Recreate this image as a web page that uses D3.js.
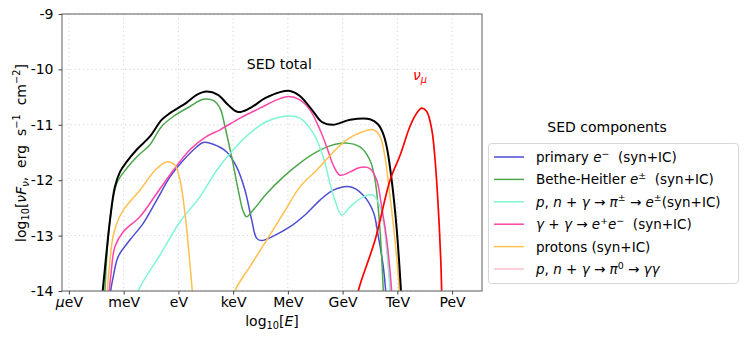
<!DOCTYPE html>
<html>
<head>
<meta charset="utf-8">
<script src="https://cdn.jsdelivr.net/npm/d3@7"></script>
<style>
	body { margin: 0; background: white; }
	text { font-family: "DejaVu Sans", sans-serif; }
</style>
</head>
<body>
<div id="chart"></div>
<script>
// log10(E/eV) tick positions and labels
var xTicks = [-6, -3, 0, 3, 6, 9, 12, 15];
var xTickLabels = ["μeV", "meV", "eV", "keV", "MeV", "GeV", "TeV", "PeV"];
var yTicks = [-14, -13, -12, -11, -10, -9];

// each series: [log10 E (eV), log10 nuFnu]
var totalSED = [[-4.25,-14.3],[-4.15,-14],[-3.75,-12.72],[-3.48,-12.12],[-3.2,-11.85],[-2.84,-11.67],[-2.29,-11.45],[-1.56,-11.21],[-0.92,-10.91],[-0.46,-10.79],[0.45,-10.6],[1.0,-10.46],[1.55,-10.4],[2.17,-10.46],[2.72,-10.64],[3.27,-10.77],[3.92,-10.7],[4.75,-10.52],[5.57,-10.41],[6.12,-10.39],[6.66,-10.48],[7.32,-10.73],[7.87,-10.95],[8.47,-11.0],[9.41,-10.91],[10.5,-10.9],[10.94,-10.99],[11.21,-11.15],[11.42,-11.4],[11.69,-12.0],[11.97,-12.9],[12.2,-14],[12.25,-14.3]];
var primaryE = [[-3.76,-14.3],[-3.71,-14],[-3.57,-13.74],[-3.3,-13.38],[-2.66,-13.08],[-1.93,-12.78],[-1.19,-12.36],[-0.46,-11.94],[0.27,-11.64],[1.0,-11.4],[1.36,-11.32],[1.91,-11.35],[2.65,-11.49],[3.19,-11.76],[3.65,-12.18],[4.02,-12.72],[4.29,-13.05],[4.56,-13.09],[5.2,-13.01],[6.12,-12.84],[7.03,-12.6],[7.76,-12.36],[8.49,-12.18],[9.41,-12.12],[10.13,-12.27],[10.68,-12.57],[10.96,-13.02],[11.23,-13.56],[11.36,-14],[11.4,-14.3]];
var betheHeitler = [[-4.08,-14.3],[-4.03,-14],[-3.81,-12.9],[-3.38,-12.06],[-2.84,-11.79],[-2.22,-11.56],[-1.56,-11.36],[-0.92,-11.03],[-0.28,-10.85],[0.63,-10.67],[1.36,-10.54],[1.91,-10.56],[2.28,-10.7],[2.55,-11.03],[2.92,-11.58],[3.28,-12.18],[3.56,-12.57],[3.74,-12.66],[4.1,-12.54],[4.84,-12.24],[5.75,-11.94],[6.66,-11.69],[7.58,-11.49],[8.31,-11.38],[9.13,-11.33],[9.95,-11.4],[10.5,-11.64],[10.78,-12.0],[11.05,-12.9],[11.23,-14],[11.26,-14.3]];
var pionCharged = [[-2.4,-14.35],[-2.2,-14],[-1.01,-13.35],[0.09,-12.75],[1.18,-12.3],[2.1,-11.82],[3.01,-11.45],[3.92,-11.15],[4.84,-10.94],[6.02,-10.84],[6.66,-10.88],[7.39,-11.15],[7.94,-11.58],[8.31,-12.06],[8.58,-12.36],[8.95,-12.63],[9.41,-12.48],[10.13,-12.3],[10.68,-12.27],[11.05,-12.48],[11.32,-12.9],[11.6,-14],[11.64,-14.3]];
var gammaGamma = [[-3.84,-14.3],[-3.79,-14],[-3.7,-13.71],[-3.48,-13.2],[-3.02,-12.93],[-2.11,-12.66],[-1.19,-12.24],[-0.28,-11.82],[0.63,-11.45],[1.55,-11.21],[2.28,-11.09],[3.38,-10.88],[4.47,-10.7],[5.39,-10.55],[6.02,-10.49],[6.66,-10.55],[7.21,-10.73],[7.76,-11.09],[8.13,-11.4],[8.49,-11.73],[8.86,-11.91],[9.41,-11.85],[9.95,-11.77],[10.5,-11.79],[10.87,-12.0],[11.14,-12.48],[11.42,-13.08],[11.69,-14],[11.73,-14.3]];
var protons = [[-3.95,-14.3],[-3.9,-14],[-3.75,-13.44],[-3.59,-13.03],[-3.38,-12.78],[-3.02,-12.54],[-2.11,-12.18],[-1.19,-11.79],[-0.64,-11.67],[-0.19,-11.73],[0.09,-12.0],[0.36,-12.6],[0.63,-13.5],[0.76,-14],[0.85,-14.4],[2.9,-14.4],[3.1,-14],[3.92,-13.56],[4.84,-13.08],[5.75,-12.6],[6.66,-12.12],[7.58,-11.82],[8.49,-11.49],[9.22,-11.27],[10.13,-11.12],[10.68,-11.09],[11.05,-11.21],[11.32,-11.58],[11.6,-12.3],[11.87,-13.08],[12.11,-14],[12.15,-14.3]];
var pionNeutral = [[10.78,-12.84],[11.0,-12.74],[11.23,-12.73],[11.32,-12.94],[11.48,-13.49],[11.63,-14],[11.66,-14.3]];
var numu = [[9.8,-14.2],[9.86,-14],[10.78,-13.08],[11.6,-12.0],[12.15,-11.55],[12.69,-11.03],[13.06,-10.79],[13.34,-10.7],[13.61,-10.76],[13.89,-11.09],[14.07,-11.64],[14.25,-12.54],[14.38,-13.44],[14.43,-14],[14.45,-14.3]];

var W = 747, H = 343;
var plot = { left: 62, right: 482, top: 14, bottom: 291 };

var svg = d3.select("#chart").append("svg")
	.attr("width", W)
	.attr("height", H);

var x = d3.scaleLinear().domain([-6.38, 16.64]).range([plot.left, plot.right]);
var y = d3.scaleLinear().domain([-14, -9]).range([plot.bottom, plot.top]);

// text with italic / super / subscript pieces
function richText(sel, parts, fs) {
	var shift = 0;
	parts.forEach(function (p) {
		var ts = sel.append("tspan").text(p.t);
		var target = p.sup ? -0.4 * fs : p.sub ? 0.22 * fs : 0;
		if (target != shift) ts.attr("dy", target - shift);
		shift = target;
		if (p.it) ts.style("font-style", "italic");
		if (p.sup || p.sub) ts.style("font-size", fs * 0.7 + "px");
	});
	sel.style("white-space", "pre");
	return sel;
}

svg.append("defs").append("clipPath").attr("id", "clip")
	.append("rect")
	.attr("x", plot.left).attr("y", plot.top)
	.attr("width", plot.right - plot.left)
	.attr("height", plot.bottom - plot.top);

// grid
var grid = svg.append("g");
grid.selectAll(".gx").data(xTicks).join("line")
	.attr("x1", d => x(d)).attr("x2", d => x(d))
	.attr("y1", plot.top).attr("y2", plot.bottom)
	.attr("stroke", "#cfcfcf").attr("stroke-width", 0.9)
	.attr("stroke-dasharray", "1.2,3");
grid.selectAll(".gy").data(yTicks).join("line")
	.attr("x1", plot.left).attr("x2", plot.right)
	.attr("y1", d => y(d)).attr("y2", d => y(d))
	.attr("stroke", "#cfcfcf").attr("stroke-width", 0.9)
	.attr("stroke-dasharray", "1.2,3");

// curves
var line = d3.line()
	.x(d => x(d[0]))
	.y(d => y(d[1]))
	.curve(d3.curveCatmullRom.alpha(0.5));

var series = [
	{ data: pionNeutral, color: "#ffc0cb", w: 1.5 },
	{ data: primaryE, color: "#4d4dd2", w: 1.5 },
	{ data: betheHeitler, color: "#4ca64c", w: 1.5 },
	{ data: pionCharged, color: "#7ff5d6", w: 1.5 },
	{ data: gammaGamma, color: "#ff44a8", w: 1.5 },
	{ data: protons, color: "#ffbf4d", w: 1.5 },
	{ data: totalSED, color: "black", w: 2 },
	{ data: numu, color: "red", w: 1.7 }
];

svg.append("g").attr("clip-path", "url(#clip)")
	.selectAll("path").data(series).join("path")
	.attr("d", d => line(d.data))
	.attr("fill", "none")
	.attr("stroke", d => d.color)
	.attr("stroke-width", d => d.w)
	.attr("stroke-linejoin", "round");

// spines
svg.append("rect")
	.attr("x", plot.left).attr("y", plot.top)
	.attr("width", plot.right - plot.left)
	.attr("height", plot.bottom - plot.top)
	.attr("fill", "none").attr("stroke", "#777").attr("stroke-width", 1.2);

// axes
var xAxis = svg.append("g")
	.attr("transform", "translate(0," + plot.bottom + ")")
	.call(d3.axisBottom(x).tickValues(xTicks)
		.tickFormat((d, i) => xTickLabels[i]).tickSize(3.5).tickPadding(2.5));
var yAxis = svg.append("g")
	.attr("transform", "translate(" + plot.left + ",0)")
	.call(d3.axisLeft(y).tickValues(yTicks)
		.tickFormat(d => d).tickSize(3.5).tickPadding(5));

svg.selectAll(".domain").remove();
svg.selectAll(".tick line").attr("stroke", "#444");
svg.selectAll(".tick text")
	.attr("fill", "black")
	.style("font-family", "DejaVu Sans")
	.style("font-size", "14px");
// mu in the first x label is math italic
xAxis.select(".tick text").text(null).call(richText, [{ t: "μ", it: true }, { t: "eV" }], 14);

// axis titles
richText(svg.append("text")
	.attr("x", (plot.left + plot.right) / 2 - 0)
	.attr("y", 326)
	.attr("text-anchor", "middle")
	.style("font-size", "14px"),
	[{ t: "log" }, { t: "10", sub: true }, { t: "[" }, { t: "E", it: true }, { t: "]" }], 14);

richText(svg.append("text")
	.attr("transform", "translate(26,153) rotate(-90)")
	.attr("text-anchor", "middle")
	.style("font-size", "14px"),
	[{ t: "log" }, { t: "10", sub: true }, { t: "[" }, { t: "νF", it: true }, { t: "ν", it: true, sub: true },
	 { t: ",  erg  s" }, { t: "−1", sup: true }, { t: "  cm" }, { t: "−2", sup: true }, { t: "]" }], 14);

// annotations
svg.append("text")
	.attr("x", x(3.75)).attr("y", y(-10.0))
	.style("font-size", "14px")
	.text("SED total");
richText(svg.append("text")
	.attr("x", x(12.86)).attr("y", y(-10.19))
	.attr("fill", "red")
	.style("font-size", "14px"),
	[{ t: "ν", it: true }, { t: "μ", it: true, sub: true }], 14);

// legend
var legendLabels = [
	[{ t: "primary " }, { t: "e", it: true }, { t: "−", sup: true }, { t: "  (syn+IC)" }],
	[{ t: "Bethe-Heitler " }, { t: "e", it: true }, { t: "±", sup: true }, { t: "  (syn+IC)" }],
	[{ t: "p", it: true }, { t: ", " }, { t: "n", it: true }, { t: " + " }, { t: "γ", it: true }, { t: " → " },
	 { t: "π", it: true }, { t: "±", sup: true }, { t: " → " }, { t: "e", it: true }, { t: "±", sup: true }, { t: "(syn+IC)" }],
	[{ t: "γ", it: true }, { t: " + " }, { t: "γ", it: true }, { t: " → " }, { t: "e", it: true }, { t: "+", sup: true },
	 { t: "e", it: true }, { t: "−", sup: true }, { t: "  (syn+IC)" }],
	[{ t: "protons (syn+IC)" }],
	[{ t: "p", it: true }, { t: ", " }, { t: "n", it: true }, { t: " + " }, { t: "γ", it: true }, { t: " → " },
	 { t: "π", it: true }, { t: "0", sup: true }, { t: " → " }, { t: "γγ", it: true }]
];
var legendColors = ["#4d4dd2", "#4ca64c", "#7ff5d6", "#ff44a8", "#ffbf4d", "#ffc0cb"];

svg.append("text")
	.attr("x", 607).attr("y", 132)
	.attr("text-anchor", "middle")
	.style("font-size", "14px")
	.text("SED components");

var lg = svg.append("g");
lg.append("rect")
	.attr("x", 488.5).attr("y", 143.5)
	.attr("width", 250).attr("height", 140)
	.attr("rx", 3)
	.attr("fill", "white").attr("stroke", "#d6d6d6");

legendLabels.forEach(function (parts, i) {
	var cy = 157 + i * 22.4;
	lg.append("line")
		.attr("x1", 494).attr("x2", 524)
		.attr("y1", cy).attr("y2", cy)
		.attr("stroke", legendColors[i]).attr("stroke-width", 1.5);
	richText(lg.append("text")
		.attr("x", 536).attr("y", cy + 5)
		.style("font-size", "13.5px"), parts, 13.5);
});
</script>
</body>
</html>
